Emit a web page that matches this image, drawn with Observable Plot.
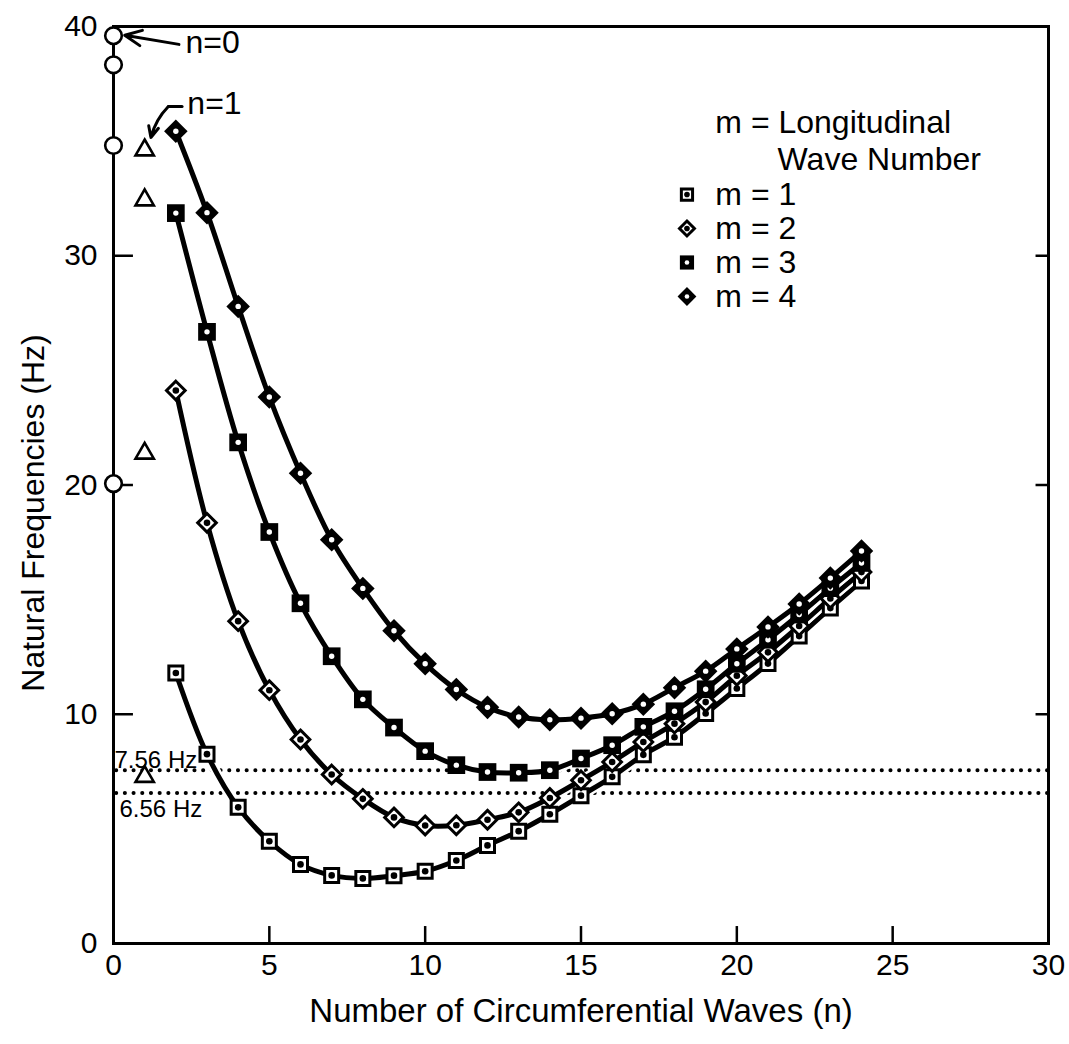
<!DOCTYPE html>
<html>
<head>
<meta charset="utf-8">
<script src="https://cdn.jsdelivr.net/npm/d3@7"></script>
<script src="https://cdn.jsdelivr.net/npm/@observablehq/plot@0.6"></script>
<style>
  html, body { margin: 0; padding: 0; background: #fff; }
  #chart svg { display: block; }
</style>
</head>
<body>
<div id="chart"></div>
<script>
// ---- data ----
const nValues = [2,3,4,5,6,7,8,9,10,11,12,13,14,15,16,17,18,19,20,21,22,23,24];
const m1Freqs = [11.8,8.26,5.94,4.46,3.45,2.97,2.84,2.96,3.15,3.62,4.28,4.9,5.64,6.45,7.27,8.23,9.0,10.03,11.12,12.21,13.41,14.63,15.81];
const m2Freqs = [24.12,18.35,14.06,11.05,8.9,7.37,6.31,5.5,5.15,5.16,5.4,5.72,6.35,7.12,7.92,8.79,9.59,10.53,11.68,12.7,13.85,15.05,16.2];
const m3Freqs = [31.86,26.68,21.86,17.95,14.84,12.53,10.65,9.42,8.39,7.78,7.48,7.45,7.56,8.07,8.65,9.45,10.13,11.09,12.2,13.25,14.35,15.5,16.6];
const m4Freqs = [35.43,31.88,27.79,23.84,20.51,17.61,15.49,13.64,12.2,11.08,10.3,9.88,9.76,9.83,10.02,10.44,11.16,11.88,12.85,13.81,14.81,15.94,17.12];
const n0Freqs = [39.6,38.33,34.81,20.06];   // n = 0 (circles)
const n1Freqs = [34.61,32.43,21.38,7.28];   // n = 1 (triangles)
const refFreqs = [7.56, 6.56];
const refLabels = ["7.56 Hz", "6.56 Hz"];
const xTicks = [0,5,10,15,20,25,30];
const yTicks = [0,10,20,30,40];
const legendTitle = ["m = Longitudinal", "Wave Number"];
const legendLabels = ["m = 1", "m = 2", "m = 3", "m = 4"];
const xTitle = "Number of Circumferential Waves (n)";
const yTitle = "Natural Frequencies (Hz)";
const annotLabels = ["n=0", "n=1"];

// ---- tables built from the arrays ----
const seriesVals = [m1Freqs, m2Freqs, m3Freqs, m4Freqs];
const series = seriesVals.map((vals, k) => vals.map((f, i) => ({n: nValues[i], f, m: k + 1})));
const n0 = n0Freqs.map(f => ({n: 0, f}));
const n1 = n1Freqs.map(f => ({n: 1, f}));

const FONT = "'Liberation Sans', Arial, Helvetica, sans-serif";

const markerStyle = [
  {symbol: "square",   r: 7.9,  fill: "white", stroke: "black", strokeWidth: 3,   dot: "black", dotR: 3.3},
  {symbol: "diamond2", r: 8.4,  fill: "white", stroke: "black", strokeWidth: 3,   dot: "black", dotR: 3.3},
  {symbol: "square",   r: 10,   fill: "black", stroke: "none",  strokeWidth: 0,   dot: "white", dotR: 2.7},
  {symbol: "diamond2", r: 10.6, fill: "black", stroke: "none",  strokeWidth: 0,   dot: "white", dotR: 2.7}
];

const marks = [];

// reference dotted lines
marks.push(Plot.ruleY(refFreqs, {y: d => d, x1: 0.1, x2: 30, stroke: "black", strokeWidth: 4,
  strokeDasharray: "0.1,8.6", strokeLinecap: "round"}));
marks.push(Plot.text([refLabels[0]], {x: 0, y: refFreqs[0], text: d => d, textAnchor: "start",
  lineAnchor: "bottom", dx: 1, dy: -2, fontSize: 24, fontFamily: FONT, fill: "black"}));
marks.push(Plot.text([refLabels[1]], {x: 0, y: refFreqs[1], text: d => d, textAnchor: "start",
  lineAnchor: "top", dx: 6, dy: 7, fontSize: 24, fontFamily: FONT, fill: "black"}));

// curves (white halo + black line)
series.forEach(s => {
  marks.push(Plot.line(s, {x: "n", y: "f", curve: "catmull-rom", stroke: "white", strokeWidth: 10}));
  marks.push(Plot.line(s, {x: "n", y: "f", curve: "catmull-rom", stroke: "black", strokeWidth: 5}));
});

// markers
series.forEach((s, k) => {
  const st = markerStyle[k];
  marks.push(Plot.dot(s, {x: "n", y: "f", symbol: st.symbol, r: st.r, fill: st.fill, stroke: st.stroke, strokeWidth: st.strokeWidth}));
  marks.push(Plot.dot(s, {x: "n", y: "f", r: st.dotR, fill: st.dot, stroke: "none"}));
});

// ticks pointing inward
marks.push(Plot.ruleX(xTicks.slice(1, -1), {x: d => d, y1: 0, y2: 0.74, stroke: "black", strokeWidth: 2.5}));
marks.push(Plot.ruleY(yTicks.slice(1, -1), {y: d => d, x1: 0, x2: 0.64, stroke: "black", strokeWidth: 2.5}));
marks.push(Plot.ruleY(yTicks.slice(1, -1), {y: d => d, x1: 29.6, x2: 30, stroke: "black", strokeWidth: 2.5}));

// tick labels
marks.push(Plot.axisX({ticks: xTicks, anchor: "bottom", tickSize: 0, tickPadding: 10, fontSize: 30, fontFamily: FONT, label: null}));
marks.push(Plot.axisY({ticks: yTicks, anchor: "left", tickSize: 0, tickPadding: 16, fontSize: 30, fontFamily: FONT, label: null}));

// axis titles
marks.push(Plot.text([xTitle], {frameAnchor: "bottom", textAnchor: "middle", lineAnchor: "middle", dy: 68,
  text: d => d, fontSize: 33, fontFamily: FONT, fill: "black"}));
marks.push(Plot.text([yTitle], {frameAnchor: "left", textAnchor: "middle", lineAnchor: "middle", rotate: -90, dx: -80, dy: 28,
  text: d => d, fontSize: 32, fontFamily: FONT, fill: "black"}));

// frame
marks.push(Plot.frame({stroke: "black", strokeWidth: 3}));

// n = 0 circles, n = 1 triangles
marks.push(Plot.dot(n0, {x: "n", y: "f", r: 8.3, fill: "white", stroke: "black", strokeWidth: 2.6}));
marks.push(Plot.dot(n1, {x: "n", y: "f", symbol: "triangle", r: 6.8, fill: "white", stroke: "black", strokeWidth: 2.6}));

// annotations n=0, n=1
marks.push(Plot.text(annotLabels, {x: [2.31, 2.37], y: [39.3, 36.64], text: d => d, textAnchor: "start",
  fontSize: 32, fontFamily: FONT, fill: "black"}));
marks.push(Plot.arrow([0], {x1: 2.1, y1: 39.22, x2: 0.36, y2: 39.62, stroke: "black", strokeWidth: 3, headLength: 14, headAngle: 50}));
marks.push(Plot.line([[2.2, 36.51], [1.76, 36.51]], {x: d => d[0], y: d => d[1], stroke: "black", strokeWidth: 3}));
marks.push(Plot.arrow([0], {x1: 1.76, y1: 36.51, x2: 1.2, y2: 35.16, bend: -15, stroke: "black", strokeWidth: 3, headLength: 12, headAngle: 50}));

// legend (title as one two-line text; second line indented to sit after "m = ")
const legendTitleText = legendTitle[0] + "\n" + "\u00a0".repeat(7) + legendTitle[1];
marks.push(Plot.text([legendTitleText], {x: 19.31, y: 35.86, text: d => d, textAnchor: "start", lineAnchor: "top",
  dy: -14, lineHeight: 1.14, fontSize: 32, fontFamily: FONT, fill: "black"}));
const legendY = (d, i) => 32.67 - i * 1.482;
marks.push(Plot.text(legendLabels, {x: 19.31, y: legendY, text: d => d, textAnchor: "start", fontSize: 32, fontFamily: FONT, fill: "black"}));
legendLabels.forEach((lab, k) => {
  const st = markerStyle[k];
  marks.push(Plot.dot([lab], {x: 18.4, y: () => 32.67 - k * 1.482, symbol: st.symbol, r: st.r * 0.8, fill: st.fill, stroke: st.stroke, strokeWidth: st.strokeWidth}));
  marks.push(Plot.dot([lab], {x: 18.4, y: () => 32.67 - k * 1.482, r: st.dotR * 0.85, fill: st.dot, stroke: "none"}));
});

const chart = Plot.plot({
  width: 1069,
  height: 1044,
  marginLeft: 113,
  marginRight: 21,
  marginTop: 26,
  marginBottom: 101,
  x: {domain: [0, 30]},
  y: {domain: [0, 40]},
  style: {background: "white", color: "black", fontFamily: FONT},
  marks
});
document.getElementById("chart").appendChild(chart);
</script>
</body>
</html>
